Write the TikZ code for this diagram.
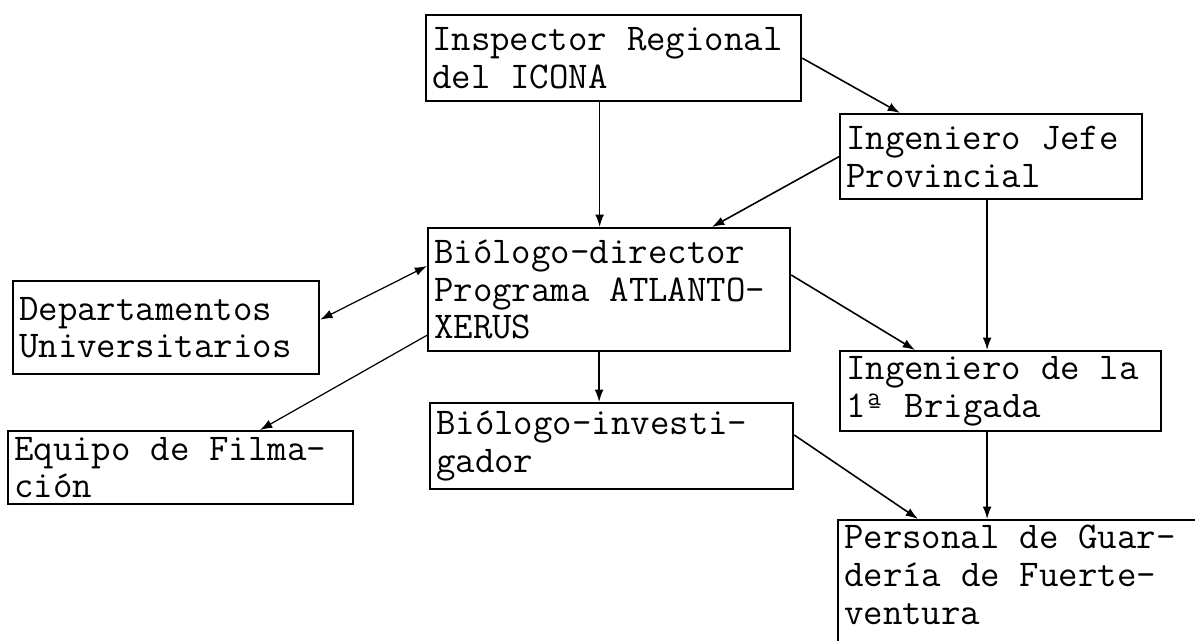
\documentclass[tikz,border=0pt]{standalone}
\usepackage{fontspec}
\usetikzlibrary{calc, positioning, arrows.meta}

\begin{document}
\begin{tikzpicture}[x=0.02cm, y=-0.02cm, >={Latex[length=7pt,width=5pt]},
    caja/.style={draw, line width=1.3pt, rectangle, anchor=north west, align=left,
        inner xsep=0.12cm, inner ysep=0.1cm,
        font=\ttfamily\fontsize{21.5}{21.5}\selectfont,
        execute at begin node={\spaceskip=0.525em\relax}},
    flecha/.style={->, line width=0.9pt}]
    % Marco de la hoja
    \path[use as bounding box] (0,0) rectangle (1195,641);
    \clip (0,0) rectangle (1195,641);

    % Cajas
    \node[caja, text width=7.26cm, minimum height=1.72cm] (insp) at (425,14) {Inspector Regional\\del ICONA};
    \node[caja, text width=5.80cm, minimum height=1.70cm] (jefe) at (839,113) {Ingeniero Jefe\\Provincial};
    \node[caja, text width=7.00cm, minimum height=2.46cm] (dir) at (427,227) {Biólogo-director\\Programa ATLANTO-\\XERUS};
    \node[caja, text width=5.88cm, minimum height=1.86cm] (dept) at (12,280) {Departamentos\\Universitarios};
    \node[caja, text width=6.18cm, minimum height=1.60cm] (brig) at (839,350) {Ingeniero de la\\1ª Brigada};
    \node[caja, text width=7.02cm, minimum height=1.72cm] (inv) at (429,402) {Biólogo-investi-\\gador};
    \node[caja, text width=6.66cm, minimum height=1.46cm] (equipo) at (7,430) {Equipo de Filma-\\ción};
    \node[caja, text width=8cm, text depth=3cm] (pers) at (837,519) {Personal de Guar-\\dería de Fuerte-\\ventura};

    % Flechas
    \draw[flecha] ([xshift=-0.28cm]insp.south) -- ([xshift=-0.28cm]insp.south |- dir.north);
    \draw[flecha] (insp.east) -- ($(jefe.north west)+(61,0)$);
    \draw[flecha] (jefe.west) -- ($(dir.north west)+(285,0)$);
    \draw[flecha] ([xshift=-0.08cm]jefe.south) -- ([xshift=-0.08cm]jefe.south |- brig.north);
    \draw[flecha] ($(dir.north east)+(0,48)$) -- ($(brig.north west)+(76,0)$);
    \draw[flecha, <->, line width=0.7pt] ($(dir.north west)+(0,39)$) -- ($(dept.east)+(0,-8)$);
    \draw[flecha, line width=0.7pt] ($(dir.south west)+(0,-17)$) -- ($(equipo.north west)+(253,0)$);
    \draw[flecha] ([xshift=-0.2cm]dir.south) -- ([xshift=-0.2cm]dir.south |- inv.north);
    \draw[flecha] ($(inv.north east)+(0,33)$) -- ($(pers.north west)+(81,0)$);
    \draw[flecha] ([xshift=-0.27cm]brig.south) -- ([xshift=-0.27cm]brig.south |- pers.north);
\end{tikzpicture}
\end{document}
